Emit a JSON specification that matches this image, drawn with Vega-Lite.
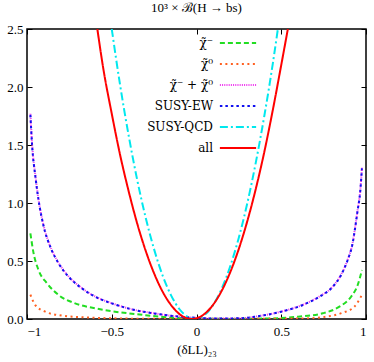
{
  "$schema": "https://vega.github.io/schema/vega-lite/v6.json",
  "width": 339,
  "height": 290,
  "autosize": "none",
  "padding": {"left": 27, "top": 29, "right": 8, "bottom": 43},
  "config": {
    "font": "Liberation Serif",
    "view": {"stroke": "black", "strokeWidth": 1.5},
    "axis": {
      "domain": false,
      "grid": false,
      "ticks": true,
      "tickColor": "black",
      "tickSize": -5,
      "tickWidth": 1,
      "labelColor": "black",
      "labelFont": "Liberation Serif",
      "labelFontSize": 13,
      "titleFont": "Liberation Serif",
      "titleFontSize": 13,
      "titleFontWeight": "normal",
      "titleColor": "black"
    }
  },
  "title": {
    "text": "10³ × ℬ(H → bs)",
    "font": "Liberation Serif",
    "fontSize": 13,
    "fontWeight": "normal",
    "offset": 8,
    "anchor": "middle",
    "color": "black"
  },
  "data": {
    "values": [
      {"d": -0.98, "B": 0.739, "c": "g"}, {"d": -0.961, "B": 0.566, "c": "g"}, {"d": -0.932, "B": 0.422, "c": "g"},
      {"d": -0.882, "B": 0.308, "c": "g"}, {"d": -0.814, "B": 0.207, "c": "g"}, {"d": -0.716, "B": 0.135, "c": "g"},
      {"d": -0.598, "B": 0.092, "c": "g"}, {"d": -0.48, "B": 0.063, "c": "g"}, {"d": -0.363, "B": 0.043, "c": "g"},
      {"d": -0.255, "B": 0.026, "c": "g"}, {"d": -0.1, "B": 0.008, "c": "g"}, {"d": 0.0, "B": 0.003, "c": "g"},
      {"d": 0.2, "B": 0.001, "c": "g"}, {"d": 0.45, "B": 0.005, "c": "g"}, {"d": 0.6, "B": 0.02, "c": "g"},
      {"d": 0.745, "B": 0.049, "c": "g"}, {"d": 0.843, "B": 0.106, "c": "g"}, {"d": 0.912, "B": 0.192, "c": "g"},
      {"d": 0.951, "B": 0.293, "c": "g"}, {"d": 0.976, "B": 0.422, "c": "g"},

      {"d": -0.98, "B": 0.21, "c": "o"}, {"d": -0.951, "B": 0.12, "c": "o"}, {"d": -0.892, "B": 0.063, "c": "o"},
      {"d": -0.794, "B": 0.029, "c": "o"}, {"d": -0.657, "B": 0.014, "c": "o"}, {"d": -0.5, "B": 0.006, "c": "o"},
      {"d": -0.3, "B": 0.002, "c": "o"}, {"d": 0.0, "B": 0.0, "c": "o"}, {"d": 0.3, "B": 0.001, "c": "o"},
      {"d": 0.65, "B": 0.005, "c": "o"}, {"d": 0.765, "B": 0.02, "c": "o"}, {"d": 0.862, "B": 0.054, "c": "o"},
      {"d": 0.931, "B": 0.106, "c": "o"}, {"d": 0.965, "B": 0.178, "c": "o"}, {"d": 0.976, "B": 0.21, "c": "o"},

      {"d": -0.98, "B": 1.77, "c": "m"}, {"d": -0.97, "B": 1.51, "c": "m"}, {"d": -0.95, "B": 1.23, "c": "m"},
      {"d": -0.932, "B": 1.03, "c": "m"}, {"d": -0.902, "B": 0.805, "c": "m"}, {"d": -0.863, "B": 0.627, "c": "m"},
      {"d": -0.814, "B": 0.484, "c": "m"}, {"d": -0.755, "B": 0.368, "c": "m"}, {"d": -0.676, "B": 0.266, "c": "m"},
      {"d": -0.598, "B": 0.194, "c": "m"}, {"d": -0.5, "B": 0.136, "c": "m"}, {"d": -0.382, "B": 0.084, "c": "m"},
      {"d": -0.255, "B": 0.05, "c": "m"}, {"d": -0.1, "B": 0.02, "c": "m"}, {"d": 0.0, "B": 0.01, "c": "m"},
      {"d": 0.1, "B": 0.004, "c": "m"}, {"d": 0.254, "B": 0.006, "c": "m"}, {"d": 0.372, "B": 0.026, "c": "m"},
      {"d": 0.5, "B": 0.064, "c": "m"}, {"d": 0.627, "B": 0.122, "c": "m"}, {"d": 0.725, "B": 0.194, "c": "m"},
      {"d": 0.804, "B": 0.28, "c": "m"}, {"d": 0.853, "B": 0.382, "c": "m"}, {"d": 0.892, "B": 0.512, "c": "m"},
      {"d": 0.921, "B": 0.656, "c": "m"}, {"d": 0.937, "B": 0.8, "c": "m"}, {"d": 0.951, "B": 0.945, "c": "m"},
      {"d": 0.965, "B": 1.09, "c": "m"}, {"d": 0.976, "B": 1.305, "c": "m"},

      {"d": -0.98, "B": 1.76, "c": "b"}, {"d": -0.97, "B": 1.5, "c": "b"}, {"d": -0.95, "B": 1.22, "c": "b"},
      {"d": -0.932, "B": 1.026, "c": "b"}, {"d": -0.902, "B": 0.8, "c": "b"}, {"d": -0.863, "B": 0.623, "c": "b"},
      {"d": -0.814, "B": 0.48, "c": "b"}, {"d": -0.755, "B": 0.365, "c": "b"}, {"d": -0.676, "B": 0.264, "c": "b"},
      {"d": -0.598, "B": 0.192, "c": "b"}, {"d": -0.5, "B": 0.135, "c": "b"}, {"d": -0.382, "B": 0.083, "c": "b"},
      {"d": -0.255, "B": 0.049, "c": "b"}, {"d": -0.1, "B": 0.02, "c": "b"}, {"d": 0.0, "B": 0.01, "c": "b"},
      {"d": 0.1, "B": 0.004, "c": "b"}, {"d": 0.254, "B": 0.006, "c": "b"}, {"d": 0.372, "B": 0.026, "c": "b"},
      {"d": 0.5, "B": 0.063, "c": "b"}, {"d": 0.627, "B": 0.121, "c": "b"}, {"d": 0.725, "B": 0.192, "c": "b"},
      {"d": 0.804, "B": 0.278, "c": "b"}, {"d": 0.853, "B": 0.379, "c": "b"}, {"d": 0.892, "B": 0.509, "c": "b"},
      {"d": 0.921, "B": 0.652, "c": "b"}, {"d": 0.937, "B": 0.796, "c": "b"}, {"d": 0.951, "B": 0.94, "c": "b"},
      {"d": 0.965, "B": 1.083, "c": "b"}, {"d": 0.976, "B": 1.299, "c": "b"},

      {"d": -0.5, "B": 2.5, "c": "q"}, {"d": -0.45, "B": 2.01, "c": "q"}, {"d": -0.4, "B": 1.58, "c": "q"},
      {"d": -0.35, "B": 1.2, "c": "q"}, {"d": -0.3, "B": 0.875, "c": "q"}, {"d": -0.25, "B": 0.6, "c": "q"},
      {"d": -0.2, "B": 0.375, "c": "q"}, {"d": -0.15, "B": 0.204, "c": "q"}, {"d": -0.1, "B": 0.084, "c": "q"},
      {"d": -0.05, "B": 0.017, "c": "q"}, {"d": -0.01, "B": 0.0, "c": "q"}, {"d": 0.05, "B": 0.037, "c": "q"},
      {"d": 0.1, "B": 0.126, "c": "q"}, {"d": 0.15, "B": 0.266, "c": "q"}, {"d": 0.2, "B": 0.459, "c": "q"},
      {"d": 0.25, "B": 0.703, "c": "q"}, {"d": 0.3, "B": 1.0, "c": "q"}, {"d": 0.35, "B": 1.35, "c": "q"},
      {"d": 0.4, "B": 1.75, "c": "q"}, {"d": 0.45, "B": 2.2, "c": "q"}, {"d": 0.48, "B": 2.5, "c": "q"},

      {"d": -0.585, "B": 2.5, "c": "r"}, {"d": -0.55, "B": 2.16, "c": "r"}, {"d": -0.5, "B": 1.77, "c": "r"},
      {"d": -0.45, "B": 1.41, "c": "r"}, {"d": -0.4, "B": 1.1, "c": "r"}, {"d": -0.35, "B": 0.824, "c": "r"},
      {"d": -0.3, "B": 0.589, "c": "r"}, {"d": -0.25, "B": 0.393, "c": "r"}, {"d": -0.2, "B": 0.236, "c": "r"},
      {"d": -0.15, "B": 0.12, "c": "r"}, {"d": -0.1, "B": 0.042, "c": "r"}, {"d": -0.05, "B": 0.004, "c": "r"},
      {"d": -0.027, "B": 0.0, "c": "r"}, {"d": 0.0, "B": 0.006, "c": "r"}, {"d": 0.05, "B": 0.047, "c": "r"},
      {"d": 0.1, "B": 0.127, "c": "r"}, {"d": 0.15, "B": 0.247, "c": "r"}, {"d": 0.2, "B": 0.407, "c": "r"},
      {"d": 0.25, "B": 0.606, "c": "r"}, {"d": 0.3, "B": 0.845, "c": "r"}, {"d": 0.35, "B": 1.123, "c": "r"},
      {"d": 0.4, "B": 1.44, "c": "r"}, {"d": 0.45, "B": 1.8, "c": "r"}, {"d": 0.5, "B": 2.19, "c": "r"},
      {"d": 0.539, "B": 2.5, "c": "r"}
    ]
  },
  "resolve": {"axis": {"x": "independent", "y": "independent"}},
  "layer": [
    {
      "mark": {"type": "line", "interpolate": "monotone", "strokeWidth": 2, "clip": true},
      "encoding": {
        "x": {
          "field": "d", "type": "quantitative",
          "scale": {"domain": [-1, 1], "nice": false},
          "axis": {"values": [-1, -0.5, 0, 0.5, 1], "title": "(δLL)₂₃", "labelPadding": 11, "titlePadding": 5, "format": "~g"}
        },
        "y": {
          "field": "B", "type": "quantitative",
          "scale": {"domain": [0, 2.5], "nice": false},
          "axis": {"values": [0, 0.5, 1, 1.5, 2, 2.5], "format": ".1f", "title": null, "labelPadding": 9}
        },
        "color": {
          "field": "c", "type": "nominal",
          "scale": {
            "domain": ["g", "o", "m", "b", "q", "r"],
            "range": ["#22dd22", "#ff6020", "#ee33ee", "#1010f0", "#00e8ee", "#ff0000"]
          },
          "legend": {
            "orient": "none", "legendX": 197.5, "legendY": 0.5, "title": null,
            "symbolType": "M-1.45,0H1.45", "symbolSize": 625, "symbolStrokeWidth": 2,
            "symbolFillColor": "transparent",
            "labelAlign": "right", "labelOffset": -38.5, "labelFontSize": 12,
            "labelFont": "DejaVu Serif", "labelColor": "black", "padding": 0, "rowPadding": 1,
            "labelExpr": "{'g': 'χ̃⁻', 'o': 'χ̃⁰', 'm': 'χ̃⁻ + χ̃⁰', 'b': 'SUSY-EW', 'q': 'SUSY-QCD', 'r': 'all'}[datum.label]"
          }
        },
        "strokeDash": {
          "field": "c", "type": "nominal",
          "scale": {
            "domain": ["g", "o", "m", "b", "q", "r"],
            "range": [[5, 3], [2, 3.5], [1, 1.2], [2.5, 3], [8, 3, 2, 3], [1, 0]]
          },
          "legend": null
        }
      }
    },
    {
      "mark": {"type": "line", "strokeOpacity": 0},
      "encoding": {
        "x": {"field": "d", "type": "quantitative", "axis": {"orient": "top", "values": [-1, -0.5, 0, 0.5, 1], "labels": false, "title": null}},
        "y": {"field": "B", "type": "quantitative", "axis": {"orient": "right", "values": [0, 0.5, 1, 1.5, 2, 2.5], "labels": false, "title": null}}
      }
    }
  ]
}
